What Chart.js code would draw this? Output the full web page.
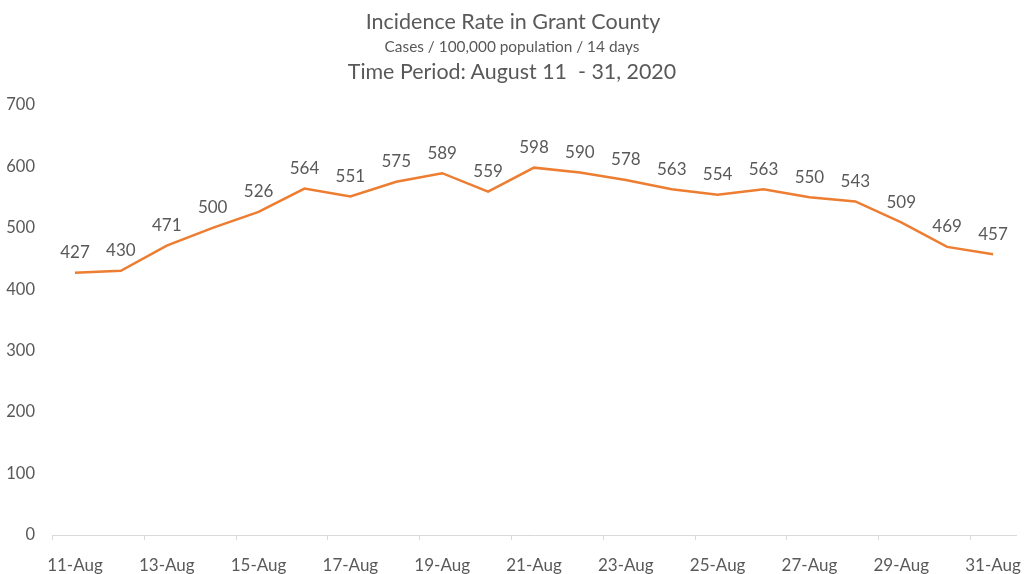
<!DOCTYPE html>
<html>
<head>
<meta charset="utf-8">
<script src="https://cdn.jsdelivr.net/npm/chart.js@4/dist/chart.umd.min.js"></script>
<style>
    html, body { margin: 0; padding: 0; background: #fff; }
    #wrap { position: relative; width: 1024px; height: 574px; }
    .ttl { position: absolute; left: 0; width: 1024px; text-align: center; color: #595959;
           font-family: Lato, "Open Sans", sans-serif; white-space: pre; line-height: 1; }
    #t1 { top: 11px; font-size: 21.5px; left: 1px; }
    #t2 { top: 39px; font-size: 15.4px; }
    #t3 { top: 61px; font-size: 21.4px; }
    canvas { position: absolute; left: 0; top: 0; }
</style>
</head>
<body>
<div id="wrap">
    <canvas id="chart-incidence" width="1024" height="574"></canvas>
    <div class="ttl" id="t1">Incidence Rate in Grant County</div>
    <div class="ttl" id="t2">Cases / 100,000 population / 14 days</div>
    <div class="ttl" id="t3">Time Period: August 11  - 31, 2020</div>
</div>
<script>
// Days and incidence values
const days = ['11-Aug', '12-Aug', '13-Aug', '14-Aug', '15-Aug', '16-Aug', '17-Aug', '18-Aug', '19-Aug', '20-Aug',
    '21-Aug', '22-Aug', '23-Aug', '24-Aug', '25-Aug', '26-Aug', '27-Aug', '28-Aug', '29-Aug', '30-Aug', '31-Aug'];
const incidence = [427, 430, 471, 500, 526, 564, 551, 575, 589, 559, 598, 590, 578, 563, 554, 563, 550, 543, 509, 469, 457];
const yTicks = [0, 100, 200, 300, 400, 500, 600, 700];

const textColor = '#595959';
const fontFamily = 'Lato, "Open Sans", sans-serif';

// Draws the value above each point
const valueLabels = {
    id: 'valueLabels',
    afterDatasetsDraw(chart) {
        const ctx = chart.ctx;
        const meta = chart.getDatasetMeta(0);
        ctx.save();
        ctx.font = '17px ' + fontFamily;
        ctx.fillStyle = textColor;
        ctx.textAlign = 'center';
        ctx.textBaseline = 'middle';
        meta.data.forEach((pt, i) => {
            ctx.fillText(String(incidence[i]), pt.x, pt.y - 20);
        });
        ctx.restore();
    }
};

// Small tick marks on the category boundaries, every second day
const axisTicks = {
    id: 'axisTicks',
    afterDraw(chart) {
        const x = chart.scales.x;
        const ctx = chart.ctx;
        const half = (x.getPixelForValue(1) - x.getPixelForValue(0)) / 2;
        ctx.save();
        ctx.strokeStyle = '#d9d9d9';
        ctx.lineWidth = 1;
        ctx.beginPath();
        days.forEach((d, i) => {
            if (i % 2 !== 0) return;
            const px = Math.round(x.getPixelForValue(i) - half) + 0.5;
            ctx.moveTo(px, x.top);
            ctx.lineTo(px, x.top + 5);
        });
        ctx.stroke();
        ctx.restore();
    }
};

const ctx = document.getElementById('chart-incidence');
new Chart(ctx, {
    type: 'line',
    data: {
        labels: days,
        datasets: [{
            label: 'Incidence Rate',
            data: incidence,
            borderColor: '#ED7D31',
            borderWidth: 2.5,
            pointRadius: 0,
            tension: 0,
            fill: false
        }]
    },
    options: {
        responsive: false,
        animation: false,
        layout: { padding: { top: 105, right: 8, left: 0, bottom: 0 } },
        plugins: {
            legend: { display: false },
            tooltip: { enabled: false }
        },
        scales: {
            x: {
                offset: true,
                grid: { display: false },
                border: { display: true, color: '#d9d9d9', width: 1 },
                ticks: {
                    autoSkip: false,
                    maxRotation: 0,
                    padding: 12,
                    color: textColor,
                    font: { family: fontFamily, size: 17 },
                    callback: function (value, index) {
                        return index % 2 === 0 ? days[index] : '';
                    }
                },
                afterFit: function (scale) {
                    scale.height = 39;
                    scale.paddingLeft = 0;
                    scale.paddingRight = 0;
                }
            },
            y: {
                min: 0,
                max: 700,
                grid: { display: false },
                border: { display: false },
                afterBuildTicks: function (scale) {
                    scale.ticks = yTicks.map(v => ({ value: v }));
                },
                ticks: {
                    padding: 9,
                    color: textColor,
                    font: { family: fontFamily, size: 16.5 }
                },
                afterFit: function (scale) { scale.width = 52; }
            }
        }
    },
    plugins: [valueLabels, axisTicks]
});
</script>
</body>
</html>
